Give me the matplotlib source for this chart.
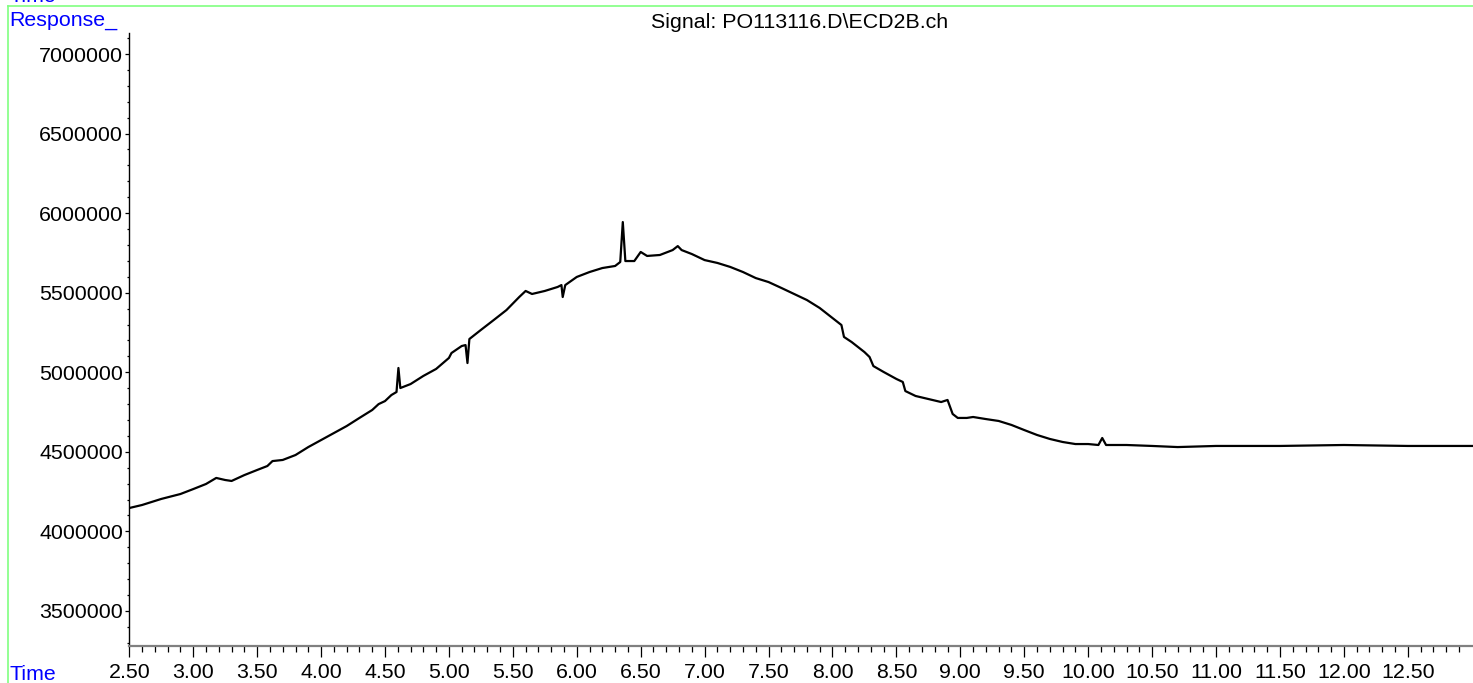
# Chromatogram: Signal PO113116.D\ECD2B.ch
import matplotlib
matplotlib.use("Agg")
import matplotlib.pyplot as plt
from matplotlib.ticker import FixedLocator, MultipleLocator, FuncFormatter
from matplotlib.lines import Line2D
import numpy as np

plt.rcParams['font.family'] = ['Liberation Sans', 'DejaVu Sans']

# values
time_min = [2.50, 2.60, 2.75, 2.90, 3.00, 3.10, 3.18, 3.25, 3.30, 3.40,
            3.50, 3.58, 3.62, 3.70, 3.80, 3.90, 4.00, 4.10, 4.20, 4.30,
            4.40, 4.45, 4.50, 4.55, 4.59, 4.605, 4.62, 4.70, 4.80, 4.90,
            5.00, 5.02, 5.10, 5.13, 5.145, 5.16, 5.25, 5.35, 5.45, 5.55,
            5.60, 5.65, 5.75, 5.85, 5.88, 5.89, 5.91, 6.00, 6.10, 6.20,
            6.30, 6.34, 6.36, 6.38, 6.45, 6.50, 6.55, 6.65, 6.75, 6.79,
            6.82, 6.90, 7.00, 7.10, 7.20, 7.30, 7.40, 7.50, 7.60, 7.70,
            7.80, 7.90, 8.00, 8.07, 8.09, 8.15, 8.25, 8.29, 8.32, 8.40,
            8.50, 8.55, 8.57, 8.65, 8.75, 8.85, 8.90, 8.94, 8.98, 9.05,
            9.10, 9.20, 9.30, 9.40, 9.50, 9.60, 9.70, 9.80, 9.90, 10.00,
            10.08, 10.11, 10.14, 10.30, 10.50, 10.70, 11.00, 11.50, 12.00, 12.50,
            13.01]
response = [4147000, 4166000, 4204000, 4235000, 4266000, 4298000, 4336000, 4323000, 4317000, 4354000,
            4386000, 4411000, 4442000, 4449000, 4480000, 4530000, 4574000, 4618000, 4662000, 4713000,
            4763000, 4800000, 4819000, 4857000, 4876000, 5027000, 4901000, 4926000, 4977000, 5021000,
            5090000, 5121000, 5165000, 5171000, 5058000, 5209000, 5266000, 5328000, 5391000, 5473000,
            5511000, 5492000, 5511000, 5536000, 5548000, 5473000, 5548000, 5599000, 5630000, 5655000,
            5668000, 5693000, 5944000, 5699000, 5699000, 5756000, 5731000, 5737000, 5768000, 5793000,
            5768000, 5743000, 5705000, 5687000, 5662000, 5630000, 5592000, 5567000, 5530000, 5492000,
            5454000, 5404000, 5341000, 5297000, 5222000, 5190000, 5127000, 5096000, 5039000, 5002000,
            4958000, 4939000, 4882000, 4851000, 4832000, 4813000, 4826000, 4738000, 4713000, 4713000,
            4719000, 4706000, 4694000, 4669000, 4637000, 4606000, 4581000, 4562000, 4549000, 4549000,
            4543000, 4587000, 4543000, 4543000, 4537000, 4530000, 4537000, 4537000, 4543000, 4537000,
            4537000]

x_major = [2.50, 3.00, 3.50, 4.00, 4.50, 5.00, 5.50, 6.00, 6.50, 7.00,
           7.50, 8.00, 8.50, 9.00, 9.50, 10.00, 10.50, 11.00, 11.50, 12.00, 12.50]
y_major = [3500000, 4000000, 4500000, 5000000, 5500000, 6000000, 6500000, 7000000]

W, H = 1473, 683
fig = plt.figure(figsize=(W / 100, H / 100), dpi=100)
fig.patch.set_facecolor('white')

# axes placed by pixel
left, right, top, bottom = 129.3, 1473, 33, 646
ax = fig.add_axes([left / W, 1 - bottom / H, (right - left) / W, (bottom - top) / H])
ax.plot(time_min, response, color='black', lw=1.6)

ax.set_xlim(2.5, 13.01)
ax.set_ylim(3279900, 7132000)

ax.xaxis.set_major_locator(FixedLocator(x_major))
ax.xaxis.set_minor_locator(FixedLocator(np.round(np.arange(2.5, 12.95, 0.1), 2)))
ax.xaxis.set_major_formatter(FuncFormatter(lambda v, p: f"{v:.2f}"))
ax.yaxis.set_major_locator(FixedLocator(y_major))
ax.yaxis.set_minor_locator(MultipleLocator(100000))
ax.yaxis.set_major_formatter(FuncFormatter(lambda v, p: f"{int(round(v))}"))

ax.tick_params(axis='x', which='major', direction='out', length=8, width=0.9,
               labelsize=15.4, pad=4, color='black')
ax.tick_params(axis='x', which='minor', direction='out', length=4.5, width=0.9, color='black')
ax.tick_params(axis='y', which='major', direction='out', length=3, width=0.9,
               labelsize=15.4, pad=1.5, color='black')
ax.tick_params(axis='y', which='minor', direction='out', length=1.5, width=0.9, color='black')

for s in ['top', 'right']:
    ax.spines[s].set_visible(False)
ax.spines['left'].set_color('black')
ax.spines['left'].set_linewidth(1.0)
ax.spines['bottom'].set_color('#808080')
ax.spines['bottom'].set_linewidth(1.6)

# green frame lines
green = '#80ff80'
fig.add_artist(Line2D([8 / W, 8 / W], [0, 1 - 6 / H], color=green, lw=1.2))
fig.add_artist(Line2D([8 / W, 1], [1 - 6 / H, 1 - 6 / H], color=green, lw=1.2))

# labels
fig.text(9 / W, 1 - 2 / H, 'Time', color='#0000ff', fontsize=15.4, va='baseline', ha='left')
fig.text(9 / W, 1 - 26 / H, 'Response_', color='#0000ff', fontsize=15.4, va='baseline', ha='left')
fig.text(9 / W, 1 - 680 / H, 'Time', color='#0000ff', fontsize=15.4, va='baseline', ha='left')
fig.text(800 / W, 1 - 28 / H, 'Signal: PO113116.D\\ECD2B.ch', color='black',
         fontsize=15.4, va='baseline', ha='center')

fig.savefig('out.png', dpi=100)
